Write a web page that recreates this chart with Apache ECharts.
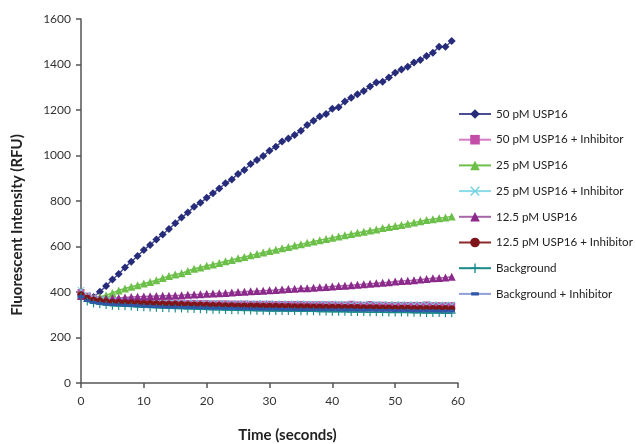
<!DOCTYPE html>
<html>
<head>
<meta charset="utf-8">
<script src="https://cdn.jsdelivr.net/npm/echarts@6/dist/echarts.min.js"></script>
<style>
  html, body { margin: 0; padding: 0; background: #fff; }
  #chart { width: 636px; height: 444px; }
</style>
</head>
<body>
<div id="chart"></div>
<script>
// time points, seconds
const times = [];
for (let t = 0; t < 60; t++) times.push(t);

const usp50 = [390, 372, 378, 401, 426, 455, 479, 508, 533, 558, 585, 607, 631, 653, 677, 702, 727, 749, 775, 792,
  814, 834, 855, 878, 895, 919, 936, 963, 980, 998, 1021, 1039, 1061, 1075, 1090, 1109, 1134, 1153, 1171, 1182,
  1205, 1212, 1237, 1254, 1269, 1283, 1303, 1321, 1324, 1343, 1364, 1378, 1390, 1409, 1420, 1437, 1452, 1478, 1478, 1503];
const usp50Inh = [398, 382, 372, 366, 362, 360, 359, 358, 357, 356, 355, 354, 353, 353, 352, 351, 351, 350, 350, 349,
  349, 348, 348, 348, 347, 347, 347, 346, 346, 346, 346, 345, 345, 345, 345, 345, 344, 344, 344, 344,
  344, 343, 343, 346, 343, 342, 345, 342, 342, 341, 341, 341, 341, 341, 341, 343, 340, 340, 340, 340];
const usp25 = [385, 376, 372, 378, 386, 396, 407, 415, 423, 430, 437, 444, 452, 461, 470, 477, 482, 492, 502, 508,
  515, 521, 528, 535, 541, 548, 554, 561, 567, 574, 580, 586, 592, 598, 604, 610, 616, 622, 628, 633,
  639, 644, 650, 655, 660, 665, 670, 675, 681, 686, 690, 695, 700, 705, 711, 716, 720, 724, 728, 732];
const usp25Inh = [408, 386, 374, 367, 363, 361, 360, 359, 358, 357, 356, 355, 355, 354, 354, 353, 353, 352, 352, 351,
  351, 351, 350, 350, 350, 350, 349, 349, 349, 349, 349, 348, 348, 348, 348, 348, 347, 347, 347, 347,
  347, 347, 346, 346, 346, 346, 346, 346, 345, 345, 345, 345, 344, 344, 344, 344, 344, 343, 343, 343];
const usp12 = [382, 374, 370, 370, 371, 372, 374, 376, 378, 379, 380, 381, 382, 383, 384, 385, 386, 388, 389, 390,
  392, 393, 395, 396, 398, 400, 401, 403, 404, 406, 408, 409, 411, 413, 414, 416, 417, 419, 421, 422,
  424, 426, 428, 430, 432, 434, 436, 439, 441, 443, 446, 448, 450, 452, 455, 457, 460, 462, 464, 467];
const usp12Inh = [388, 372, 364, 360, 357, 355, 354, 353, 352, 351, 350, 349, 348, 347, 346, 346, 345, 344, 343, 343,
  342, 341, 341, 340, 340, 339, 339, 338, 338, 337, 337, 337, 336, 336, 335, 335, 335, 334, 334, 333,
  333, 333, 332, 332, 332, 331, 331, 331, 330, 330, 329, 329, 329, 328, 328, 328, 327, 327, 327, 326];
const background = [378, 358, 350, 346, 343, 340, 339, 337, 336, 334, 333, 332, 331, 330, 329, 328, 327, 326, 325, 324,
  323, 322, 322, 321, 320, 320, 319, 319, 318, 318, 317, 317, 317, 316, 316, 315, 315, 315, 314, 314,
  313, 313, 313, 312, 312, 312, 311, 311, 311, 310, 310, 310, 310, 309, 309, 308, 308, 308, 307, 307];
const backgroundInh = [380, 362, 354, 350, 347, 345, 344, 342, 341, 340, 338, 337, 336, 335, 334, 334, 333, 332, 331, 331,
  330, 329, 329, 328, 328, 327, 327, 326, 326, 325, 325, 325, 324, 324, 323, 323, 323, 322, 322, 322,
  322, 321, 321, 321, 320, 320, 320, 319, 319, 319, 318, 318, 318, 317, 317, 317, 317, 316, 316, 316];

const seriesDefs = [
  { name: "50 pM USP16", data: usp50, symbol: "diamond", size: 8, color: "#262b7a", line: "#4a4e92" },
  { name: "50 pM USP16 + Inhibitor", data: usp50Inh, symbol: "rect", size: 7, color: "#c24da6", line: "#d77cc4" },
  { name: "25 pM USP16", data: usp25, symbol: "triangle", size: 8, color: "#6cc04a", line: "#6cc04a" },
  { name: "25 pM USP16 + Inhibitor", data: usp25Inh, symbol: "path://M0,1L1,0L5,4L9,0L10,1L6,5L10,9L9,10L5,6L1,10L0,9L4,5Z", size: 7, color: "#6dd0e0", line: "#8adbe8" },
  { name: "12.5 pM USP16", data: usp12, symbol: "triangle", size: 8, color: "#8b2a8b", line: "#a866a8" },
  { name: "12.5 pM USP16 + Inhibitor", data: usp12Inh, symbol: "circle", size: 7, color: "#7f1419", line: "#8a2a2a" },
  { name: "Background", data: background, symbol: "path://M4.3,0H5.7V4.3H10V5.7H5.7V10H4.3V5.7H0V4.3H4.3Z", size: 8, color: "#168a8a", line: "#1a8a8a" },
  { name: "Background + Inhibitor", data: backgroundInh, symbol: "path://M0,0L0,0ZM10,10L10,10ZM1,3.3H9V6.7H1Z", size: 8, color: "#2e57a8", line: "#8fa0d8" }
];

const chart = echarts.init(document.getElementById("chart"));

const axisColor = "#555";
const fontFamily = "Lato, 'Noto Sans', sans-serif";

chart.setOption({
  animation: false,
  backgroundColor: "#fff",
  textStyle: { fontFamily: fontFamily },
  grid: { left: 81, right: 178, top: 19, bottom: 61, outerBoundsMode: "none" },
  legend: {
    orient: "vertical",
    left: 453,
    top: 103,
    itemWidth: 32,
    itemHeight: 12,
    itemGap: 13.7,
    textStyle: { fontSize: 11.6, color: "#222", fontFamily: fontFamily },
    data: seriesDefs.map((s) => s.name)
  },
  graphic: [
    {
      type: "text",
      x: 17,
      y: 225,
      rotation: Math.PI / 2,
      style: {
        text: "Fluorescent Intensity (RFU)",
        align: "center",
        verticalAlign: "middle",
        fontSize: 15,
        fontWeight: "bold",
        fontFamily: fontFamily,
        fill: "#222"
      }
    }
  ],
  xAxis: {
    type: "value",
    min: 0,
    max: 60,
    interval: 10,
    name: "Time (seconds)",
    nameLocation: "middle",
    nameGap: 45,
    nameTextStyle: { fontSize: 15, fontWeight: "bold", color: "#222", padding: [0, 0, 0, 36] },
    axisLine: { lineStyle: { color: axisColor, width: 1.5 } },
    axisTick: { length: 5, lineStyle: { color: axisColor, width: 1.5 } },
    axisLabel: { color: "#333", fontSize: 12, margin: 12 },
    splitLine: { show: false }
  },
  yAxis: {
    type: "value",
    min: 0,
    max: 1600,
    interval: 200,
    axisLine: { show: true, lineStyle: { color: axisColor, width: 1.5 } },
    axisTick: { show: true, length: 5, lineStyle: { color: axisColor, width: 1.5 } },
    axisLabel: { color: "#333", fontSize: 12, margin: 10, formatter: (v) => String(v) },
    splitLine: { show: false }
  },
  series: seriesDefs.map((s) => ({
    name: s.name,
    type: "line",
    data: times.map((t, i) => [t, s.data[i]]),
    symbol: s.symbol,
    symbolSize: s.size,
    showAllSymbol: true,
    itemStyle: { color: s.color },
    lineStyle: { color: s.line, width: 1.5 },
    emphasis: { disabled: true }
  }))
});
</script>
</body>
</html>
